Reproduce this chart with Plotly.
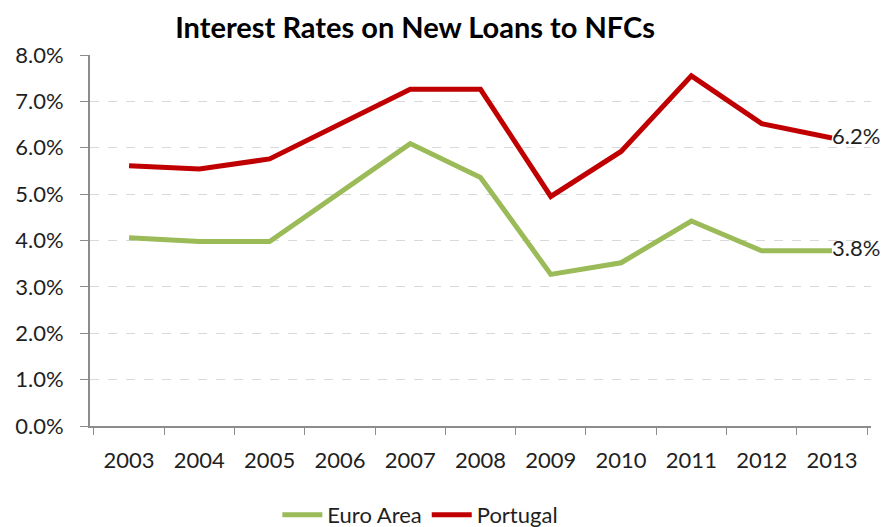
import plotly.graph_objects as go

years = ["2003", "2004", "2005", "2006", "2007", "2008", "2009", "2010", "2011", "2012", "2013"]
euro_area = [4.06, 3.98, 3.98, 5.02, 6.09, 5.36, 3.27, 3.52, 4.42, 3.78, 3.78]
portugal = [5.61, 5.54, 5.76, 6.51, 7.26, 7.26, 4.95, 5.92, 7.55, 6.52, 6.21]
y_ticks = [0, 1, 2, 3, 4, 5, 6, 7, 8]
y_tick_labels = ["0.0%", "1.0%", "2.0%", "3.0%", "4.0%", "5.0%", "6.0%", "7.0%", "8.0%"]

FONT = "Lato"
TXT = "#1f1f1f"
FS = 22


def last_label(vals):
    return [""] * (len(vals) - 1) + [f"{vals[-1]:.1f}%"]


fig = go.Figure()
fig.add_trace(go.Scatter(
    x=years, y=euro_area, name="Euro Area", mode="lines+text",
    line=dict(color="#9BBB59", width=5),
    text=last_label(euro_area), textposition="middle right",
    textfont=dict(family=FONT, size=FS, color=TXT),
    cliponaxis=False,
))
fig.add_trace(go.Scatter(
    x=years, y=portugal, name="Portugal", mode="lines+text",
    line=dict(color="#C00000", width=5),
    text=last_label(portugal), textposition="middle right",
    textfont=dict(family=FONT, size=FS, color=TXT),
    cliponaxis=False,
))

# page body has an 8px margin, so the figure is drawn at (8, 8)
fig.update_layout(
    width=885, height=519,
    margin=dict(l=82, r=22, t=47, b=101, autoexpand=False),
    paper_bgcolor="white", plot_bgcolor="white",
    title=dict(text="<b>Interest Rates on New Loans to NFCs</b>",
               x=0.46, xanchor="center", y=0.961, yanchor="middle",
               font=dict(family=FONT, size=29, color="black")),
    font=dict(family=FONT, size=FS, color=TXT),
    showlegend=True,
    legend=dict(orientation="h", x=0.423, xanchor="center", y=-0.24, yanchor="middle",
                font=dict(family=FONT, size=FS, color=TXT), itemwidth=40,
                traceorder="normal"),
    xaxis=dict(
        type="category", tickson="boundaries", ticks="outside", ticklen=7,
        tickcolor="#8c8c8c", showline=True, linecolor="#8c8c8c", linewidth=2,
        showgrid=False, tickfont=dict(family=FONT, size=FS, color=TXT),
        ticklabelstandoff=14, automargin=False,
    ),
    yaxis=dict(
        range=[0, 8], tickvals=y_ticks, ticktext=y_tick_labels,
        ticks="outside", ticklen=8, tickcolor="#8c8c8c",
        showline=True, linecolor="#8c8c8c", linewidth=2,
        showgrid=True, gridcolor="#d9d9d9", griddash="dash", gridwidth=1,
        zeroline=False, tickfont=dict(family=FONT, size=FS, color=TXT),
        ticklabelstandoff=12, automargin=False,
    ),
)

fig.write_html("out.html")
